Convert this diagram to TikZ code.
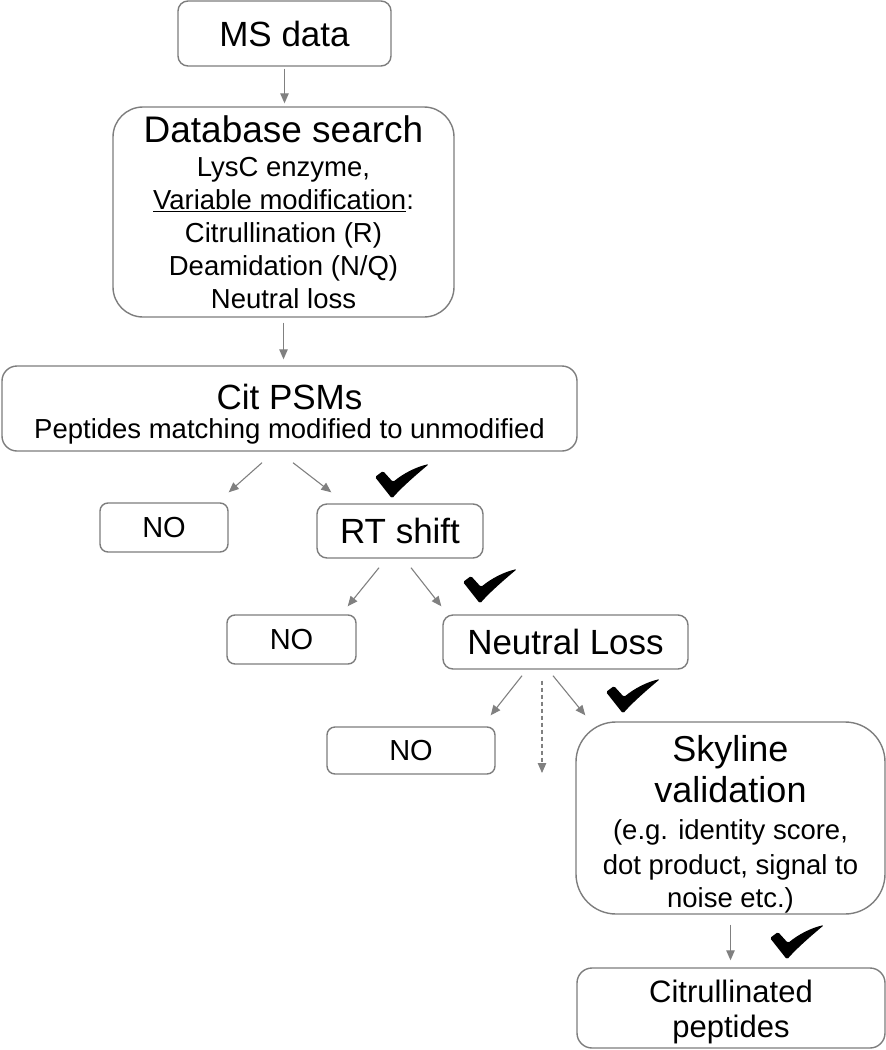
\documentclass[tikz,border=0pt]{standalone}
\usepackage{fontspec}
\setmainfont{Liberation Sans}
\usetikzlibrary{arrows.meta}
\definecolor{edgegray}{RGB}{125,125,125}
\definecolor{arrowgray}{RGB}{128,128,128}
\newcommand{\fsz}[2]{\fontsize{#1}{#2}\selectfont}
\tikzset{
  box/.style={draw=edgegray, line width=1.4pt, rounded corners=#1, inner sep=0pt,
              align=center, text=black},
  box/.default=10pt,
  arr/.style={draw=arrowgray, line width=1.1pt, -{Triangle[length=10pt,width=8.5pt]}},
  dasharr/.style={arr, dash pattern=on 4pt off 3pt},
  tick/.pic={
    \fill[black, rounded corners=1.5pt] (0,1.5) -- (-17,-20) -- (-9,-26) -- (1,-15)
      .. controls (12,-24) and (24,-30) .. (37,-33)
      .. controls (24,-22) and (10,-10) .. cycle;
  },
}
\begin{document}
\begin{tikzpicture}[x=1pt,y=-1pt]
\useasboundingbox (0,0) rectangle (886,1050);

\node[box=10pt, minimum width=213pt, minimum height=65pt, font=\fsz{35}{40}] (ms) at (284.5,33.5) {MS data};

\node[box=30pt, minimum width=341pt, minimum height=210pt, font=\fsz{27.5}{33}] (db) at (283.5,212)
  {{\fsz{37}{34}Database search}\\[1pt]
   LysC enzyme,\\
   \underline{Variable modification}:\\
   Citrullination (R)\\
   Deamidation (N/Q)\\
   Neutral loss};

\node[box=15pt, minimum width=575pt, minimum height=85pt, font=\fsz{27.5}{29}] (cit) at (289.5,408.5)
  {{\fsz{35}{29}\rule{0pt}{37.5pt}Cit PSMs}\\Peptides matching modified to unmodified};

\node[box=8pt, minimum width=128pt, minimum height=49pt, font=\fsz{29}{33}] (no1) at (164,527.5) {NO};
\node[box=10pt, minimum width=166pt, minimum height=54pt, font=\fsz{35}{40}] (rt) at (400,531) {RT shift};
\node[box=8pt, minimum width=129pt, minimum height=49pt, font=\fsz{29}{33}] (no2) at (291.5,639.5) {NO};
\node[box=10pt, minimum width=245pt, minimum height=54pt, font=\fsz{35}{40}] (nl) at (565.5,642) {Neutral Loss};
\node[box=8pt, minimum width=168pt, minimum height=47pt, font=\fsz{29}{33}] (no3) at (411,750.5) {NO};

\node[box=40pt, minimum width=309pt, minimum height=192pt, font=\fsz{27.5}{34}] (sky) at (730.5,818)
  {{\fsz{36}{42}\rule{0pt}{38pt}Skyline}\\[7pt]
   {\fsz{36}{42}validation}\\[3pt]
   (e.g. identity score,\\[1pt]
   dot product, signal to\\[-1pt]
   noise etc.)};

\node[box=15pt, minimum width=308pt, minimum height=80pt, font=\fsz{31}{35}] (pep) at (731,1008)
  {\rule{0pt}{29.6pt}Citrullinated\\peptides};

\coordinate (nlend) at (542,773);

% connectors
\draw[arr] ([yshift=-2pt]ms.south) -- ([yshift=3pt]ms.south |- db.north);
\draw[arr] ([yshift=-5pt]db.south) -- ([yshift=6pt]db.south |- cit.north);
\draw[arr] ([xshift=-27.5pt,yshift=-11pt]cit.south) -- ([yshift=10pt]no1.north east);
\draw[arr] ([xshift=3.5pt,yshift=-11pt]cit.south) -- ([xshift=15pt,yshift=11pt]rt.north west);
\draw[arr] ([xshift=-21pt,yshift=-9pt]rt.south) -- ([xshift=-9pt,yshift=8pt]no2.north east);
\draw[arr] ([xshift=11pt,yshift=-9pt]rt.south) -- ([xshift=-1pt,yshift=8pt]nl.north west);
\draw[arr] ([xshift=-43.5pt,yshift=-6pt]nl.south) -- ([xshift=-5pt,yshift=11pt]no3.north east);
\draw[dasharr] ([xshift=-23.5pt,yshift=-11pt]nl.south) -- (nlend);
\draw[arr] ([xshift=-12.5pt,yshift=-6pt]nl.south) -- ([xshift=10pt,yshift=6pt]sky.north west);
\draw[arr] ([yshift=-10pt]sky.south) -- ([yshift=7pt]sky.south |- pep.north);

% check marks
\pic at (392,497) {tick};
\pic at (480,602) {tick};
\pic at (623,712) {tick};
\pic at (787,958) {tick};
\end{tikzpicture}
\end{document}
